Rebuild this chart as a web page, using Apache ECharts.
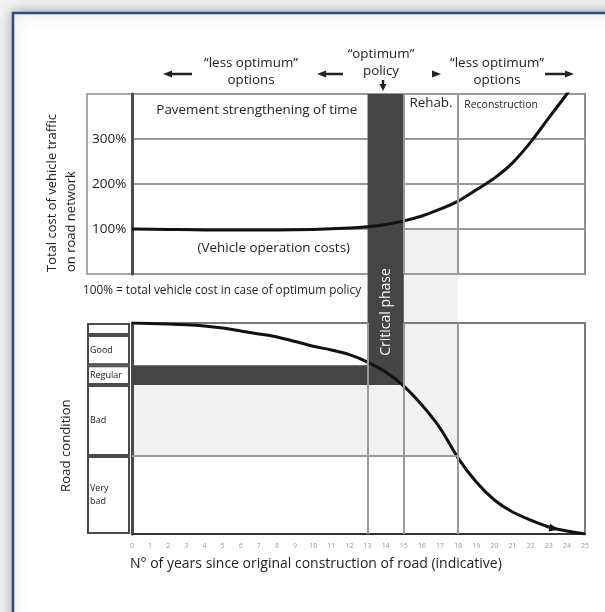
<!DOCTYPE html>
<html>
<head>
<meta charset="utf-8">
<script src="https://cdn.jsdelivr.net/npm/echarts@6/dist/echarts.min.js"></script>
<style>
  html, body { margin: 0; padding: 0; background: #f3f3f3; }
  #chart { width: 605px; height: 612px; }
</style>
</head>
<body>
<div id="chart"></div>
<script>
// vehicle operating cost (% of optimum policy) against age of road
const costYears = [0, 2, 4, 6, 8, 10, 12, 13, 14, 15, 16, 17, 18, 19, 20, 21, 22, 23, 24, 24.3];
const costValues = [100, 99, 98, 98, 98, 99, 102, 105, 110, 118, 129, 144, 162, 187, 213, 247, 293, 347, 400, 418];
const costTicks = [100, 200, 300];

// road condition index (0 = worst, 100 = best)
const condYears = [0, 1, 2, 3, 4, 5, 6, 7, 8, 9, 10, 11, 12, 13, 14, 15, 16, 17, 18, 19, 20, 21, 22, 23, 23.3, 24, 25];
const condValues = [100, 99.8, 99.5, 99.2, 98.6, 97.6, 96.2, 94.8, 93.4, 91.2, 89, 87.2, 85, 81.5, 76.8, 70.1, 61.1, 50.2, 36, 24.6, 16.1, 10.4, 6.6, 3.3, 2.6, 1.4, 0];
const arrowYear = 23.3;

// condition classes, bottom to top
const bandNames = ['Very\nbad', 'Bad', 'Regular', 'Good', ''];
const bandSizes = [37, 33.6, 9.4, 14.3, 5.7];

// phases along the x axis
const criticalStart = 13;
const rehabStart = 15;
const reconStart = 18;
const lastYear = 25;

const bandTop = [];
bandSizes.reduce((acc, v) => { bandTop.push(acc + v); return acc + v; }, 0);
// bandTop = [37, 70.6, 80, 94.3, 100]

const font = 'Open Sans';

const option = {
  backgroundColor: '#f3f3f3',
  animation: false,
  textStyle: { fontFamily: font, color: '#222' },
  grid: [
    { left: 132, top: 94, width: 453, height: 180, show: true, borderColor: '#8c8c8c', borderWidth: 2, backgroundColor: 'transparent' },
    { left: 132, top: 323, width: 453, height: 211, show: true, borderColor: '#7a7a7a', borderWidth: 2, backgroundColor: 'transparent' },
    { left: 87, top: 323, width: 43, height: 211 }
  ],
  xAxis: [
    {
      gridIndex: 0, type: 'value', min: 0, max: lastYear, interval: 1,
      axisLine: { show: false }, axisTick: { show: false }, axisLabel: { show: false }, splitLine: { show: false },
      name: '100% = total vehicle cost in case of optimum policy',
      nameLocation: 'start', nameGap: 49,
      nameTextStyle: { align: 'left', verticalAlign: 'top', padding: [11, 0, 0, 0], fontSize: 11.8, color: '#222' }
    },
    {
      gridIndex: 1, type: 'value', min: 0, max: lastYear, interval: 1,
      axisLine: { show: true, lineStyle: { color: '#333', width: 2 } },
      axisTick: { show: false },
      axisLabel: { fontSize: 7, color: '#9a9a9a', margin: 8 },
      splitLine: { show: false },
      name: 'N° of years since original construction of road (indicative)',
      nameLocation: 'start', nameGap: 2,
      nameTextStyle: { align: 'left', verticalAlign: 'top', padding: [23, 0, 0, 0], fontSize: 14, color: '#222' }
    },
    { gridIndex: 2, type: 'category', data: ['c'], show: false }
  ],
  yAxis: [
    {
      gridIndex: 0, type: 'value', min: 0, max: 400, interval: 100,
      axisLine: { show: true, lineStyle: { color: '#4a4a4a', width: 3 } },
      axisTick: { show: false },
      axisLabel: {
        margin: 40, align: 'left', fontSize: 13.5, color: '#222', padding: [0, 0, 7, 0],
        formatter: v => costTicks.includes(v) ? v + '%' : ''
      },
      splitLine: { show: true, lineStyle: { color: '#9a9a9a', width: 2 } }
    },
    {
      gridIndex: 1, type: 'value', min: 0, max: 100,
      axisLine: { show: true, lineStyle: { color: '#4a4a4a', width: 3 } },
      axisTick: { show: false }, axisLabel: { show: false }, splitLine: { show: false }
    },
    { gridIndex: 2, type: 'value', min: 0, max: 100, show: false }
  ],
  series: [
    {
      // phase dividers and labels in the cost chart
      type: 'line', xAxisIndex: 0, yAxisIndex: 0, data: [], z: 1, silent: true,
      markLine: {
        silent: true, symbol: 'none', label: { show: false },
        lineStyle: { color: '#9a9a9a', width: 2, type: 'solid' },
        data: [{ xAxis: rehabStart }, { xAxis: reconStart }]
      },
      markArea: {
        silent: true,
        itemStyle: { color: 'rgba(0,0,0,0)' },
        label: { color: '#222', fontFamily: font, fontSize: 13.4 },
        data: [
          [{ name: 'Pavement strengthening of time', coord: [0, 300], label: { position: 'inside', offset: [7, -6] } }, { coord: [criticalStart, 400] }],
          [{ name: 'Rehab.', coord: [rehabStart, 300], label: { position: 'insideTop', distance: 3 } }, { coord: [reconStart, 400] }],
          [{ name: 'Reconstruction', coord: [reconStart, 300], label: { position: 'insideTopLeft', distance: 6, fontSize: 10.5 } }, { coord: [lastYear, 400] }],
          [{ name: '(Vehicle operation costs)', coord: [0, 0], label: { position: 'inside', offset: [24, -3] } }, { coord: [criticalStart, 100] }]
        ]
      }
    },
    {
      type: 'line', xAxisIndex: 0, yAxisIndex: 0, z: 3,
      data: costYears.map((x, i) => [x, costValues[i]]),
      smooth: 0.3, symbol: 'none', clip: true,
      lineStyle: { color: '#111', width: 3 }
    },
    {
      // phase dividers in the condition chart
      type: 'line', xAxisIndex: 1, yAxisIndex: 1, data: [], z: 1, silent: true,
      markLine: {
        silent: true, symbol: 'none', label: { show: false },
        lineStyle: { color: '#9a9a9a', width: 2, type: 'solid' },
        data: [
          { xAxis: criticalStart }, { xAxis: rehabStart }, { xAxis: reconStart },
          [{ coord: [0, bandTop[0]] }, { coord: [reconStart, bandTop[0]] }]
        ]
      }
    },
    {
      type: 'line', xAxisIndex: 1, yAxisIndex: 1, z: 3,
      data: condYears.map((x, i) => {
        const p = [x, condValues[i]];
        if (x === arrowYear) return { value: p, symbol: 'triangle', symbolSize: [8, 10], symbolRotate: -101 };
        return p;
      }),
      smooth: 0.3, symbol: 'none',
      itemStyle: { color: '#111' },
      lineStyle: { color: '#111', width: 3 }
    }
  ].concat(bandNames.map((name, i) => ({
    type: 'bar', xAxisIndex: 2, yAxisIndex: 2, stack: 'bands', name: 'band' + i,
    data: [bandSizes[i]], barWidth: '100%', silent: true,
    itemStyle: { color: '#fff', borderColor: '#4a4a4a', borderWidth: 2 },
    label: { show: true, position: 'insideLeft', distance: 3, formatter: name, fontSize: 9, color: '#222', lineHeight: 13 }
  })))
};

const chart = echarts.init(document.getElementById('chart'), null, { renderer: 'canvas' });
chart.setOption(option);

const px = (grid, x, y) => chart.convertToPixel({ gridIndex: grid }, [x, y]);
const rectBetween = (a, b, fill, z) => ({
  type: 'rect', z: z, silent: true,
  shape: { x: a[0], y: a[1], width: b[0] - a[0], height: b[1] - a[1] },
  style: { fill: fill }
});

const arrowColor = '#222';
function hArrow(tail, head, y) {
  const s = head > tail ? 1 : -1;
  return [
    { type: 'line', z: 5, shape: { x1: tail, y1: y, x2: head - s * 6, y2: y }, style: { stroke: arrowColor, lineWidth: 2.5 } },
    { type: 'polygon', z: 5, shape: { points: [[head, y], [head - s * 9, y - 3.5], [head - s * 9, y + 3.5]] }, style: { fill: arrowColor } }
  ];
}

const critTop = px(0, criticalStart, 400);
const critBot = px(1, rehabStart, bandTop[1]);
const grayTop = px(0, rehabStart, 100);
const grayBot = px(1, reconStart, bandTop[0]);
const badTop = px(1, 0, bandTop[1]);
const badBot = px(1, reconStart, bandTop[0]);
const regTop = px(1, 0, bandTop[2]);
const regBot = px(1, rehabStart, bandTop[1]);
const critMidX = (critTop[0] + critBot[0]) / 2;

const annoFont = '13.4px "Open Sans"';
const titleFont = '13px "Open Sans"';

chart.setOption({
  graphic: [
    // page frame
    {
      type: 'rect', z: -10, silent: true,
      shape: { x: 13, y: 13, width: 700, height: 700 },
      style: { fill: '#fff', stroke: '#1f4f86', lineWidth: 2.5, shadowBlur: 14, shadowColor: 'rgba(0,0,0,0.3)' }
    },
    // label column of the cost chart
    {
      type: 'rect', z: -1, silent: true,
      shape: { x: 87, y: 94, width: 45, height: 180 },
      style: { fill: '#fff', stroke: '#8c8c8c', lineWidth: 1.5 }
    },
    rectBetween(grayTop, grayBot, '#f1f1f1', -1),
    rectBetween(badTop, badBot, '#f1f1f1', -1),
    rectBetween(critTop, critBot, '#454545', 1.5),
    rectBetween(regTop, regBot, '#454545', 1.5),
    {
      type: 'text', z: 6, silent: true, x: critMidX, y: 312, rotation: Math.PI / 2,
      style: { text: 'Critical phase', fill: '#fff', font: '14px "Open Sans"', align: 'center', verticalAlign: 'middle' }
    },
    // axis titles
    {
      type: 'text', z: 6, silent: true, x: 52, y: 272, rotation: Math.PI / 2,
      style: { text: 'Total cost of vehicle traffic', fill: '#222', font: titleFont, align: 'left', verticalAlign: 'middle' }
    },
    {
      type: 'text', z: 6, silent: true, x: 71, y: 272, rotation: Math.PI / 2,
      style: { text: 'on road network', fill: '#222', font: titleFont, align: 'left', verticalAlign: 'middle' }
    },
    {
      type: 'text', z: 6, silent: true, x: 66, y: 492, rotation: Math.PI / 2,
      style: { text: 'Road condition', fill: '#222', font: '13.2px "Open Sans"', align: 'left', verticalAlign: 'middle' }
    },
    // policy annotations
    {
      type: 'text', z: 6, silent: true, x: 251, y: 72,
      style: { text: '“less optimum”\noptions', fill: '#222', font: annoFont, lineHeight: 17, align: 'center', verticalAlign: 'middle' }
    },
    {
      type: 'text', z: 6, silent: true, x: 381, y: 63,
      style: { text: '“optimum”\npolicy', fill: '#222', font: annoFont, lineHeight: 17, align: 'center', verticalAlign: 'middle' }
    },
    {
      type: 'text', z: 6, silent: true, x: 497, y: 72,
      style: { text: '“less optimum”\noptions', fill: '#222', font: annoFont, lineHeight: 17, align: 'center', verticalAlign: 'middle' }
    },
    ...hArrow(192, 163, 74),
    ...hArrow(343, 317, 74),
    { type: 'polygon', z: 5, shape: { points: [[441, 74], [432, 70.5], [432, 77.5]] }, style: { fill: arrowColor } },
    ...hArrow(545, 574, 74),
    { type: 'line', z: 5, shape: { x1: 383, y1: 80, x2: 383, y2: 86 }, style: { stroke: arrowColor, lineWidth: 2.5 } },
    { type: 'polygon', z: 5, shape: { points: [[383, 91], [379.5, 84], [386.5, 84]] }, style: { fill: arrowColor } }
  ]
});
</script>
</body>
</html>
